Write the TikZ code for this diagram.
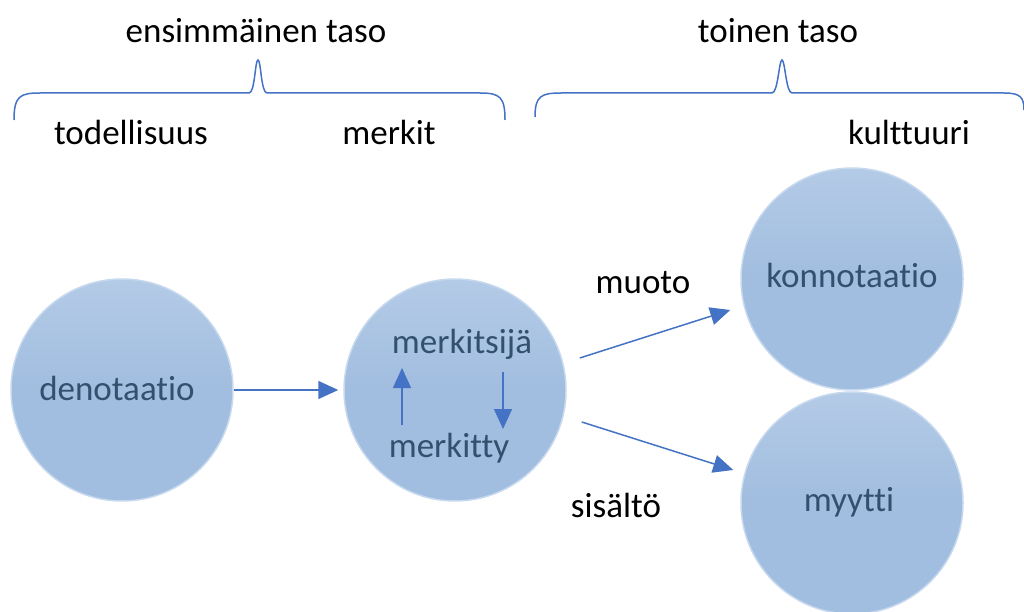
\documentclass[tikz,border=0pt]{standalone}
\usepackage{fontspec}
\setmainfont{Carlito}[Ligatures=NoCommon]
\usetikzlibrary{calc,positioning,arrows.meta}
\definecolor{ballfill}{HTML}{A1BDDF}
\definecolor{balltop}{HTML}{B4CBE7}
\definecolor{ballrim}{HTML}{C6D9EE}
\definecolor{balltext}{HTML}{33506E}
\definecolor{linkblue}{HTML}{4472C4}

\begin{document}
\begin{tikzpicture}[x=1pt, y=-1pt,
    ball/.style={circle, minimum size=222pt, inner sep=0pt, draw=ballrim, line width=1.5pt,
        top color=balltop, bottom color=ballfill, middle color=ballfill},
    balltxt/.style={text=balltext, font=\fontsize{35}{38}\selectfont, anchor=base},
    toptxt/.style={font=\fontsize{35}{38}\selectfont, anchor=base},
    arr/.style={draw=linkblue, line width=1.5pt, -{Triangle[length=20pt, width=18pt]}},
    brace/.style={draw=linkblue, line width=1.5pt}]
    \useasboundingbox (0,0) rectangle (1024,612);

    % levels
    \node[toptxt] (level1) at (256,43) {ensimmäinen taso};
    \node[toptxt] (level2) at (778,43) {toinen taso};
    \node[toptxt] (reality) at (131,145) {todellisuus};
    \node[toptxt] (signs) at (389,145) {merkit};
    \node[toptxt] (culture) at (909,145) {kulttuuri};

    % braces
    \draw[brace] (14,120) .. controls (14,96) and (20,93) .. (40,93) -- (249,93)
        .. controls (255,93) and (255,60) .. (258,60) .. controls (261,60) and (261,93) .. (267,93)
        -- (480,93) .. controls (500,93) and (505,97) .. (505,120);
    \draw[brace] (535,117) .. controls (535,96) and (541,93) .. (561,93) -- (772,93)
        .. controls (778,93) and (779,60) .. (782,60) .. controls (785,60) and (786,93) .. (792,93)
        -- (1004,93) .. controls (1020,93) and (1024,97) .. (1024,110);

    % circles
    \node[ball] (deno) at (122,390) {};
    \node[ball] (merk) at (455,390) {};
    \node[ball] (konno) at (852,279) {};
    \node[ball] (myth) at (852,503) {};

    \node[balltxt] (denotxt) at (117,400) {denotaatio};
    \node[balltxt] (signifier) at (462,353) {merkitsijä};
    \node[balltxt] (signified) at (449,457) {merkitty};
    \node[balltxt] (konnotxt) at (852,287) {konnotaatio};
    \node[balltxt] (mythtxt) at (849,511) {myytti};

    % connectors
    \draw[arr] (deno.east) -- ([xshift=-5pt]merk.west);
    \draw[arr] ($(merk.east)+(13,-32)$) -- ($(konno.west)+(-10,31)$);
    \draw[arr] ($(merk.east)+(15,32)$) -- ($(myth.west)+(-7,-33)$);
    \draw[arr] ($(merk)+(-53,35)$) -- ($(merk)+(-53,-22)$);
    \draw[arr] ($(merk)+(48,-18)$) -- ($(merk)+(48,39)$);

    \node[toptxt] (form) at (643,293) {muoto};
    \node[toptxt] (content) at (616,517) {sisältö};
\end{tikzpicture}
\end{document}
